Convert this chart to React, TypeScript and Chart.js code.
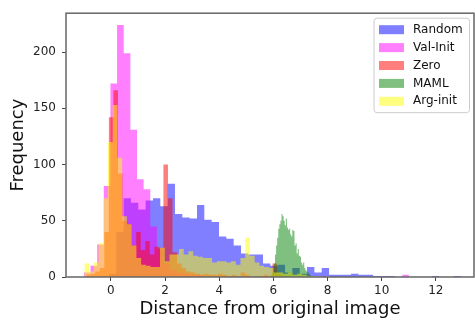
import React, { useEffect, useRef } from "react";
import { Chart, registerables } from "chart.js";

Chart.register(...registerables);

const seriesLabels = ["Random", "Val-Init", "Zero", "MAML", "Arg-init"];
const seriesColors = [
  "rgba(0,0,255,0.5)",
  "rgba(255,0,255,0.5)",
  "rgba(255,0,0,0.5)",
  "rgba(0,128,0,0.5)",
  "rgba(255,255,0,0.5)",
];

// Histogram bins: first edge, bin width, counts per bin
const randomStart = -0.074;
const randomWidth = 0.271;
const randomCounts = [
  3, 40, 70, 66, 60, 68, 70, 63, 83, 56, 53, 52, 64, 51, 49, 36, 34, 28, 21, 20,
  20, 12, 10, 11, 4, 8, 3, 9, 4, 8, 2, 2, 2, 3, 2, 2, 1, 1, 1, 0, 0, 0, 0, 0, 1,
  0, 0, 1,
];

const valInitStart = -0.998;
const valInitWidth = 0.245;
const valInitCounts = [
  4, 10, 29, 81, 172, 224, 199, 131, 87, 78, 45, 25, 12, 6, 4, 3, 2, 2, 1, 1, 1,
  1, 0, 1, 0, 0, 0, 0, 0, 0, 0, 0, 0, 0, 0, 0, 1, 0, 0, 0, 0, 0, 0, 0, 0, 0, 0,
  0, 2,
];

const zeroStart = -0.916;
const zeroWidth = 0.1679;
const zeroCounts = [
  2, 3, 5, 8, 40, 142, 166, 92, 50, 47, 28, 40, 24, 32, 20, 27, 26, 100, 70, 22,
  12, 8, 5, 4, 3, 2, 3, 2, 2, 3, 2, 1, 2, 1, 4, 2, 1, 1, 1, 2, 1, 12, 3, 1,
];

const mamlStart = 5.9;
const mamlWidth = 0.04;
const mamlCounts = [
  2, 4, 8, 12, 20, 28, 35, 43, 47, 50, 56, 54, 50, 46, 52, 44, 42, 43, 38, 36, 42,
  41, 28, 30, 21, 25, 19, 18, 13, 11, 13, 8, 6, 5, 4, 3, 2, 1,
];

const argInitStart = -0.983;
const argInitWidth = 0.1748;
const argInitCounts = [
  12, 5, 13, 30, 70, 120, 153, 106, 54, 47, 28, 17, 11, 10, 9, 9, 26, 14, 20, 20,
  25, 20, 23, 19, 18, 17, 17, 13, 14, 14, 13, 14, 11, 17, 35, 19, 13, 10, 9, 8, 4,
  4, 3, 4, 2, 3, 2, 1, 1, 1, 0, 1,
];

const xTicks = [0, 2, 4, 6, 8, 10, 12];
const yTicks = [0, 50, 100, 150, 200];
const xMin = -1.66;
const xMax = 13.41;
const yMax = 234.5;

function histPoints(start: number, width: number, counts: number[]) {
  const pts = counts.map((c, i) => ({ x: start + i * width, y: c }));
  pts.push({ x: start + counts.length * width, y: 0 });
  return pts;
}

const FONT = '"DejaVu Sans", "Liberation Sans", sans-serif';

const framePlugin = {
  id: "frame",
  afterDatasetsDraw(chart: any) {
    const { ctx, chartArea } = chart;
    ctx.save();
    ctx.strokeStyle = "#666666";
    ctx.lineWidth = 1.5;
    ctx.strokeRect(
      chartArea.left,
      chartArea.top,
      chartArea.right - chartArea.left,
      chartArea.bottom - chartArea.top
    );
    ctx.restore();
  },
};

const legendPlugin = {
  id: "boxLegend",
  afterDraw(chart: any) {
    const { ctx, chartArea } = chart;
    ctx.save();
    const w = 95.5;
    const h = 94.5;
    const x0 = chartArea.right - 100;
    const y0 = chartArea.top + 5;
    const r = 3;
    ctx.beginPath();
    ctx.moveTo(x0 + r, y0);
    ctx.lineTo(x0 + w - r, y0);
    ctx.arcTo(x0 + w, y0, x0 + w, y0 + r, r);
    ctx.lineTo(x0 + w, y0 + h - r);
    ctx.arcTo(x0 + w, y0 + h, x0 + w - r, y0 + h, r);
    ctx.lineTo(x0 + r, y0 + h);
    ctx.arcTo(x0, y0 + h, x0, y0 + h - r, r);
    ctx.lineTo(x0, y0 + r);
    ctx.arcTo(x0, y0, x0 + r, y0, r);
    ctx.closePath();
    ctx.fillStyle = "rgba(255,255,255,0.8)";
    ctx.fill();
    ctx.strokeStyle = "#cccccc";
    ctx.lineWidth = 1;
    ctx.stroke();
    ctx.font = `12px ${FONT}`;
    ctx.textBaseline = "middle";
    ctx.textAlign = "left";
    seriesLabels.forEach((lab, i) => {
      const cy = y0 + 11.5 + i * 17.9;
      ctx.fillStyle = seriesColors[i];
      ctx.fillRect(x0 + 5, cy - 4.5, 25, 9);
      ctx.fillStyle = "#111111";
      ctx.fillText(lab, x0 + 39, cy);
    });
    ctx.restore();
  },
};

export default function App() {
  const ref = useRef<HTMLCanvasElement>(null);
  useEffect(() => {
    document.body.style.margin = "0";
    const series = [
      [randomStart, randomWidth, randomCounts],
      [valInitStart, valInitWidth, valInitCounts],
      [zeroStart, zeroWidth, zeroCounts],
      [mamlStart, mamlWidth, mamlCounts],
      [argInitStart, argInitWidth, argInitCounts],
    ] as [number, number, number[]][];
    const datasets = series.map(([s, w, c], i) => ({
      label: seriesLabels[i],
      data: histPoints(s, w, c),
      stepped: true,
      fill: "origin",
      backgroundColor: seriesColors[i],
      borderColor: "transparent",
      borderWidth: 0,
      showLine: false,
      pointRadius: 0,
      pointHoverRadius: 0,
      order: series.length - i,
    }));
    const chart = new Chart(ref.current as HTMLCanvasElement, {
      type: "line",
      data: { datasets: datasets as any },
      options: {
        animation: false,
        responsive: false,
        events: [],
        layout: { padding: { top: 12, right: 1, left: 0, bottom: 0 } },
        plugins: {
          legend: { display: false },
          tooltip: { enabled: false },
        },
        scales: {
          x: {
            type: "linear",
            min: xMin,
            max: xMax,
            afterBuildTicks: (s: any) => {
              s.ticks = xTicks.map((v) => ({ value: v }));
            },
            afterFit: (s: any) => {
              s.height = 43;
            },
            ticks: {
              font: { family: FONT, size: 12 },
              color: "#222222",
              padding: 3,
              maxRotation: 0,
              autoSkip: false,
            },
            grid: {
              drawOnChartArea: false,
              drawTicks: true,
              tickLength: 4,
              color: "#444444",
            },
            border: { display: false },
            title: {
              display: true,
              text: "Distance from original image",
              font: { family: FONT, size: 18 },
              color: "#111111",
              padding: { top: 0, bottom: 0 },
            },
          },
          y: {
            type: "linear",
            min: 0,
            max: yMax,
            afterBuildTicks: (s: any) => {
              s.ticks = yTicks.map((v) => ({ value: v }));
            },
            afterFit: (s: any) => {
              s.width = 66;
            },
            ticks: {
              font: { family: FONT, size: 12 },
              color: "#222222",
              padding: 6,
            },
            grid: {
              drawOnChartArea: false,
              drawTicks: true,
              tickLength: 4,
              color: "#444444",
            },
            border: { display: false },
            title: {
              display: true,
              text: "Frequency",
              font: { family: FONT, size: 18 },
              color: "#111111",
              padding: { top: 7.5, bottom: 0 },
            },
          },
        },
      } as any,
      plugins: [framePlugin, legendPlugin],
    });
    return () => chart.destroy();
  }, []);
  return (
    <canvas
      ref={ref}
      width={475}
      height={320}
      style={{ display: "block", width: 475, height: 320 }}
    />
  );
}
